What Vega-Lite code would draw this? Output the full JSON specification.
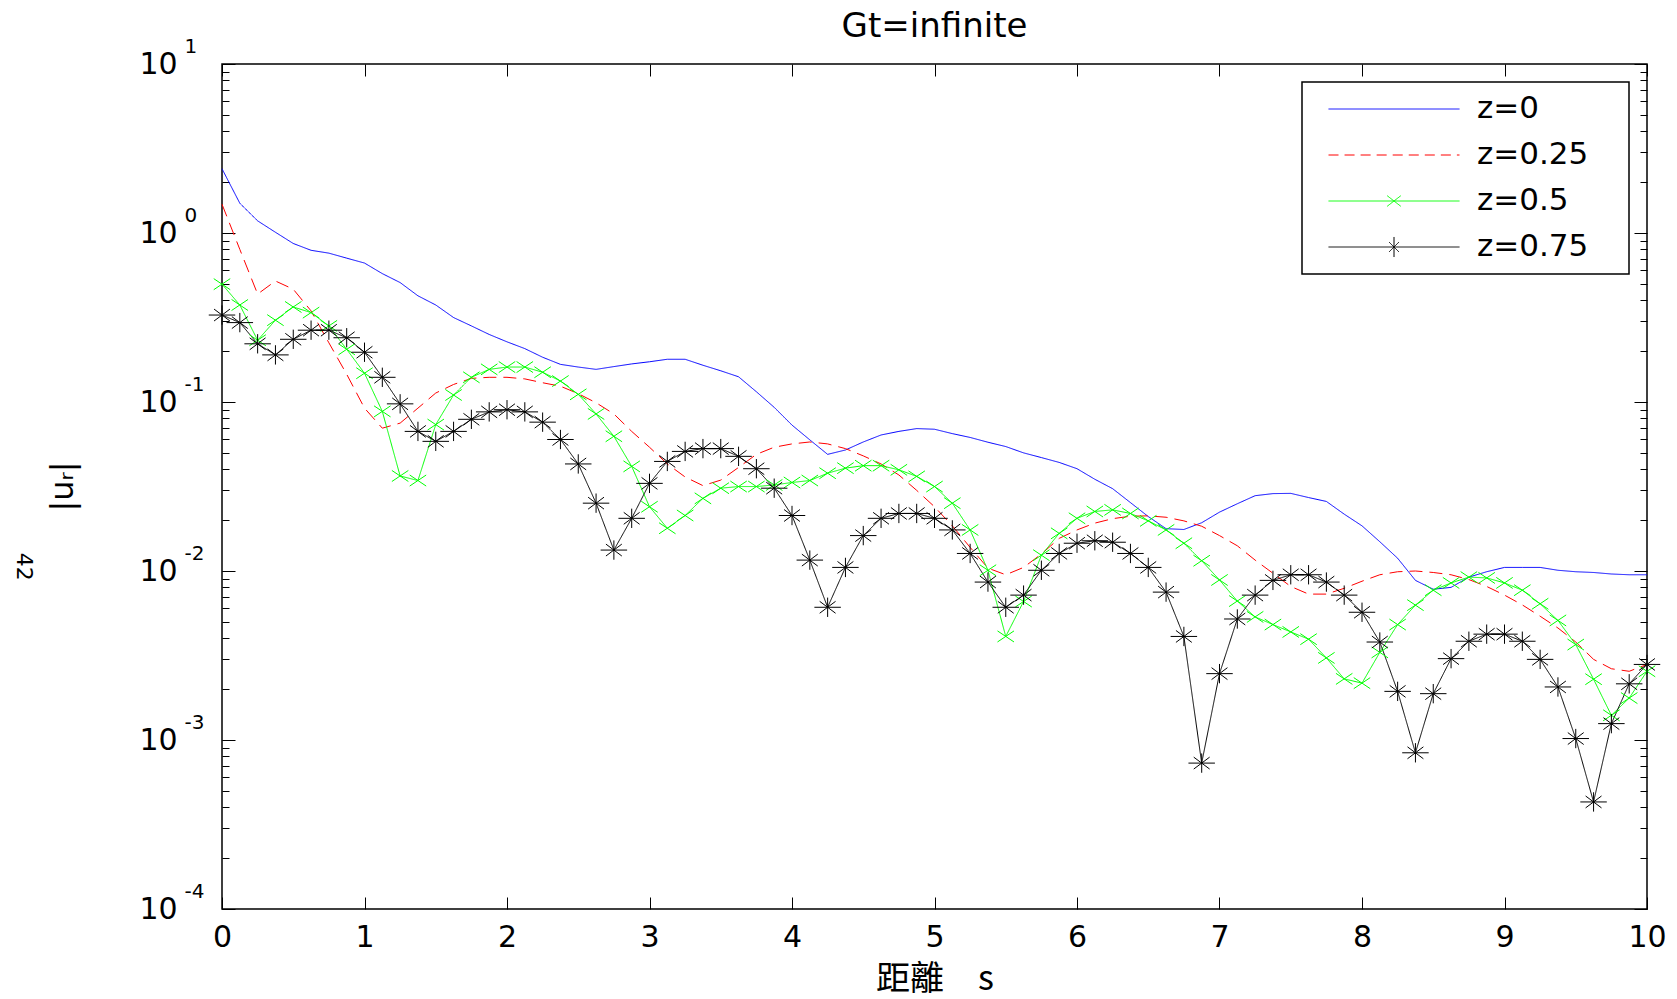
{
"$schema":"https://vega.github.io/schema/vega-lite/v6.json",
"width":1425,"height":845,
"autosize":{"type":"none"},
"padding":{"left":222,"top":64,"right":30,"bottom":90},
"background":"white",
"config":{"view":{"stroke":"black","strokeWidth":1.5},"font":"DejaVu Sans",
 "axis":{"domain":false,"grid":false,"tickColor":"black","tickWidth":1,"labelColor":"black","labelFont":"DejaVu Sans","labelFlush":false,"labelOverlap":false,"labelBound":false,"titleColor":"black","titleFontWeight":"normal"}},
"title":{"text":"Gt=infinite","font":"DejaVu Sans","fontSize":34,"fontWeight":"normal","color":"black","baseline":"alphabetic","offset":-34,"anchor":"middle"},
"datasets":{"curves":[
{"s":0,"z":"z=0","v":2.4},{"s":0.125,"z":"z=0","v":1.5},{"s":0.25,"z":"z=0","v":1.18},{"s":0.375,"z":"z=0","v":1.01},{"s":0.5,"z":"z=0","v":0.867},{"s":0.625,"z":"z=0","v":0.79},{"s":0.75,"z":"z=0","v":0.76},{"s":0.875,"z":"z=0","v":0.71},{"s":1,"z":"z=0","v":0.664},{"s":1.125,"z":"z=0","v":0.575},{"s":1.25,"z":"z=0","v":0.509},{"s":1.375,"z":"z=0","v":0.425},{"s":1.5,"z":"z=0","v":0.375},{"s":1.625,"z":"z=0","v":0.316},{"s":1.75,"z":"z=0","v":0.282},{"s":1.875,"z":"z=0","v":0.251},{"s":2,"z":"z=0","v":0.227},{"s":2.125,"z":"z=0","v":0.207},{"s":2.25,"z":"z=0","v":0.184},{"s":2.375,"z":"z=0","v":0.167},{"s":2.5,"z":"z=0","v":0.161},{"s":2.625,"z":"z=0","v":0.156},{"s":2.75,"z":"z=0","v":0.162},{"s":2.875,"z":"z=0","v":0.168},{"s":3,"z":"z=0","v":0.173},{"s":3.125,"z":"z=0","v":0.179},{"s":3.25,"z":"z=0","v":0.179},{"s":3.375,"z":"z=0","v":0.165},{"s":3.5,"z":"z=0","v":0.153},{"s":3.625,"z":"z=0","v":0.141},{"s":3.75,"z":"z=0","v":0.115},{"s":3.875,"z":"z=0","v":0.093},{"s":4,"z":"z=0","v":0.073},{"s":4.125,"z":"z=0","v":0.0597},{"s":4.25,"z":"z=0","v":0.049},{"s":4.375,"z":"z=0","v":0.052},{"s":4.5,"z":"z=0","v":0.058},{"s":4.625,"z":"z=0","v":0.0638},{"s":4.75,"z":"z=0","v":0.067},{"s":4.875,"z":"z=0","v":0.0696},{"s":5,"z":"z=0","v":0.069},{"s":5.125,"z":"z=0","v":0.065},{"s":5.25,"z":"z=0","v":0.0617},{"s":5.375,"z":"z=0","v":0.0578},{"s":5.5,"z":"z=0","v":0.0545},{"s":5.625,"z":"z=0","v":0.05},{"s":5.75,"z":"z=0","v":0.0469},{"s":5.875,"z":"z=0","v":0.0439},{"s":6,"z":"z=0","v":0.0403},{"s":6.125,"z":"z=0","v":0.0349},{"s":6.25,"z":"z=0","v":0.0307},{"s":6.375,"z":"z=0","v":0.0254},{"s":6.5,"z":"z=0","v":0.021},{"s":6.625,"z":"z=0","v":0.0178},{"s":6.75,"z":"z=0","v":0.0176},{"s":6.875,"z":"z=0","v":0.0193},{"s":7,"z":"z=0","v":0.0223},{"s":7.125,"z":"z=0","v":0.025},{"s":7.25,"z":"z=0","v":0.0279},{"s":7.375,"z":"z=0","v":0.0287},{"s":7.5,"z":"z=0","v":0.0288},{"s":7.625,"z":"z=0","v":0.0272},{"s":7.75,"z":"z=0","v":0.0258},{"s":7.875,"z":"z=0","v":0.0217},{"s":8,"z":"z=0","v":0.0185},{"s":8.125,"z":"z=0","v":0.0149},{"s":8.25,"z":"z=0","v":0.0119},{"s":8.375,"z":"z=0","v":0.0088},{"s":8.5,"z":"z=0","v":0.0078},{"s":8.625,"z":"z=0","v":0.008},{"s":8.75,"z":"z=0","v":0.0092},{"s":8.875,"z":"z=0","v":0.0099},{"s":9,"z":"z=0","v":0.0105},{"s":9.125,"z":"z=0","v":0.0105},{"s":9.25,"z":"z=0","v":0.0105},{"s":9.375,"z":"z=0","v":0.0101},{"s":9.5,"z":"z=0","v":0.0099},{"s":9.625,"z":"z=0","v":0.0098},{"s":9.75,"z":"z=0","v":0.0096},{"s":9.875,"z":"z=0","v":0.0095},{"s":10,"z":"z=0","v":0.0095},
{"s":0,"z":"z=0.25","v":1.48},{"s":0.125,"z":"z=0.25","v":0.8},{"s":0.25,"z":"z=0.25","v":0.435},{"s":0.375,"z":"z=0.25","v":0.52},{"s":0.5,"z":"z=0.25","v":0.465},{"s":0.625,"z":"z=0.25","v":0.346},{"s":0.75,"z":"z=0.25","v":0.224},{"s":0.875,"z":"z=0.25","v":0.146},{"s":1,"z":"z=0.25","v":0.092},{"s":1.125,"z":"z=0.25","v":0.07},{"s":1.25,"z":"z=0.25","v":0.075},{"s":1.375,"z":"z=0.25","v":0.092},{"s":1.5,"z":"z=0.25","v":0.113},{"s":1.625,"z":"z=0.25","v":0.127},{"s":1.75,"z":"z=0.25","v":0.138},{"s":1.875,"z":"z=0.25","v":0.14},{"s":2,"z":"z=0.25","v":0.14},{"s":2.125,"z":"z=0.25","v":0.137},{"s":2.25,"z":"z=0.25","v":0.13},{"s":2.375,"z":"z=0.25","v":0.124},{"s":2.5,"z":"z=0.25","v":0.112},{"s":2.625,"z":"z=0.25","v":0.099},{"s":2.75,"z":"z=0.25","v":0.085},{"s":2.875,"z":"z=0.25","v":0.067},{"s":3,"z":"z=0.25","v":0.054},{"s":3.125,"z":"z=0.25","v":0.043},{"s":3.25,"z":"z=0.25","v":0.036},{"s":3.375,"z":"z=0.25","v":0.032},{"s":3.5,"z":"z=0.25","v":0.0345},{"s":3.625,"z":"z=0.25","v":0.041},{"s":3.75,"z":"z=0.25","v":0.049},{"s":3.875,"z":"z=0.25","v":0.054},{"s":4,"z":"z=0.25","v":0.0565},{"s":4.125,"z":"z=0.25","v":0.058},{"s":4.25,"z":"z=0.25","v":0.0565},{"s":4.375,"z":"z=0.25","v":0.053},{"s":4.5,"z":"z=0.25","v":0.048},{"s":4.625,"z":"z=0.25","v":0.043},{"s":4.75,"z":"z=0.25","v":0.037},{"s":4.875,"z":"z=0.25","v":0.03},{"s":5,"z":"z=0.25","v":0.024},{"s":5.125,"z":"z=0.25","v":0.0185},{"s":5.25,"z":"z=0.25","v":0.0138},{"s":5.375,"z":"z=0.25","v":0.0104},{"s":5.5,"z":"z=0.25","v":0.0095},{"s":5.625,"z":"z=0.25","v":0.0105},{"s":5.75,"z":"z=0.25","v":0.0126},{"s":5.875,"z":"z=0.25","v":0.0156},{"s":6,"z":"z=0.25","v":0.0175},{"s":6.125,"z":"z=0.25","v":0.0192},{"s":6.25,"z":"z=0.25","v":0.0204},{"s":6.375,"z":"z=0.25","v":0.0211},{"s":6.5,"z":"z=0.25","v":0.0212},{"s":6.625,"z":"z=0.25","v":0.0208},{"s":6.75,"z":"z=0.25","v":0.0198},{"s":6.875,"z":"z=0.25","v":0.0184},{"s":7,"z":"z=0.25","v":0.0162},{"s":7.125,"z":"z=0.25","v":0.0141},{"s":7.25,"z":"z=0.25","v":0.0116},{"s":7.375,"z":"z=0.25","v":0.0097},{"s":7.5,"z":"z=0.25","v":0.0081},{"s":7.625,"z":"z=0.25","v":0.0073},{"s":7.75,"z":"z=0.25","v":0.0073},{"s":7.875,"z":"z=0.25","v":0.0079},{"s":8,"z":"z=0.25","v":0.0087},{"s":8.125,"z":"z=0.25","v":0.0095},{"s":8.25,"z":"z=0.25","v":0.0099},{"s":8.375,"z":"z=0.25","v":0.01},{"s":8.5,"z":"z=0.25","v":0.0098},{"s":8.625,"z":"z=0.25","v":0.0095},{"s":8.75,"z":"z=0.25","v":0.0089},{"s":8.875,"z":"z=0.25","v":0.0081},{"s":9,"z":"z=0.25","v":0.0072},{"s":9.125,"z":"z=0.25","v":0.0063},{"s":9.25,"z":"z=0.25","v":0.0054},{"s":9.375,"z":"z=0.25","v":0.0046},{"s":9.5,"z":"z=0.25","v":0.0038},{"s":9.625,"z":"z=0.25","v":0.003},{"s":9.75,"z":"z=0.25","v":0.00264},{"s":9.875,"z":"z=0.25","v":0.00255},{"s":10,"z":"z=0.25","v":0.0028},
{"s":0,"z":"z=0.5","v":0.498},{"s":0.125,"z":"z=0.5","v":0.375},{"s":0.25,"z":"z=0.5","v":0.232},{"s":0.375,"z":"z=0.5","v":0.305},{"s":0.5,"z":"z=0.5","v":0.365},{"s":0.625,"z":"z=0.5","v":0.338},{"s":0.75,"z":"z=0.5","v":0.282},{"s":0.875,"z":"z=0.5","v":0.205},{"s":1,"z":"z=0.5","v":0.148},{"s":1.125,"z":"z=0.5","v":0.088},{"s":1.25,"z":"z=0.5","v":0.0365},{"s":1.375,"z":"z=0.5","v":0.0343},{"s":1.5,"z":"z=0.5","v":0.0735},{"s":1.625,"z":"z=0.5","v":0.11},{"s":1.75,"z":"z=0.5","v":0.14},{"s":1.875,"z":"z=0.5","v":0.156},{"s":2,"z":"z=0.5","v":0.161},{"s":2.125,"z":"z=0.5","v":0.161},{"s":2.25,"z":"z=0.5","v":0.15},{"s":2.375,"z":"z=0.5","v":0.133},{"s":2.5,"z":"z=0.5","v":0.111},{"s":2.625,"z":"z=0.5","v":0.085},{"s":2.75,"z":"z=0.5","v":0.0627},{"s":2.875,"z":"z=0.5","v":0.0416},{"s":3,"z":"z=0.5","v":0.024},{"s":3.125,"z":"z=0.5","v":0.0179},{"s":3.25,"z":"z=0.5","v":0.0213},{"s":3.375,"z":"z=0.5","v":0.0269},{"s":3.5,"z":"z=0.5","v":0.0309},{"s":3.625,"z":"z=0.5","v":0.0316},{"s":3.75,"z":"z=0.5","v":0.0316},{"s":3.875,"z":"z=0.5","v":0.0323},{"s":4,"z":"z=0.5","v":0.0334},{"s":4.125,"z":"z=0.5","v":0.0343},{"s":4.25,"z":"z=0.5","v":0.0379},{"s":4.375,"z":"z=0.5","v":0.0406},{"s":4.5,"z":"z=0.5","v":0.042},{"s":4.625,"z":"z=0.5","v":0.042},{"s":4.75,"z":"z=0.5","v":0.0397},{"s":4.875,"z":"z=0.5","v":0.0363},{"s":5,"z":"z=0.5","v":0.0316},{"s":5.125,"z":"z=0.5","v":0.0252},{"s":5.25,"z":"z=0.5","v":0.0175},{"s":5.375,"z":"z=0.5","v":0.0101},{"s":5.5,"z":"z=0.5","v":0.0041},{"s":5.625,"z":"z=0.5","v":0.0066},{"s":5.75,"z":"z=0.5","v":0.0124},{"s":5.875,"z":"z=0.5","v":0.0167},{"s":6,"z":"z=0.5","v":0.0205},{"s":6.125,"z":"z=0.5","v":0.0225},{"s":6.25,"z":"z=0.5","v":0.023},{"s":6.375,"z":"z=0.5","v":0.0219},{"s":6.5,"z":"z=0.5","v":0.0198},{"s":6.625,"z":"z=0.5","v":0.0175},{"s":6.75,"z":"z=0.5","v":0.0146},{"s":6.875,"z":"z=0.5","v":0.0115},{"s":7,"z":"z=0.5","v":0.00885},{"s":7.125,"z":"z=0.5","v":0.00664},{"s":7.25,"z":"z=0.5","v":0.00535},{"s":7.375,"z":"z=0.5","v":0.00482},{"s":7.5,"z":"z=0.5","v":0.00436},{"s":7.625,"z":"z=0.5","v":0.00395},{"s":7.75,"z":"z=0.5","v":0.00306},{"s":7.875,"z":"z=0.5","v":0.0023},{"s":8,"z":"z=0.5","v":0.00217},{"s":8.125,"z":"z=0.5","v":0.0033},{"s":8.25,"z":"z=0.5","v":0.00482},{"s":8.375,"z":"z=0.5","v":0.00628},{"s":8.5,"z":"z=0.5","v":0.0077},{"s":8.625,"z":"z=0.5","v":0.0085},{"s":8.75,"z":"z=0.5","v":0.0092},{"s":8.875,"z":"z=0.5","v":0.0091},{"s":9,"z":"z=0.5","v":0.0085},{"s":9.125,"z":"z=0.5","v":0.0077},{"s":9.25,"z":"z=0.5","v":0.0064},{"s":9.375,"z":"z=0.5","v":0.0051},{"s":9.5,"z":"z=0.5","v":0.00367},{"s":9.625,"z":"z=0.5","v":0.00229},{"s":9.75,"z":"z=0.5","v":0.0014},{"s":9.875,"z":"z=0.5","v":0.00177},{"s":10,"z":"z=0.5","v":0.00255},
{"s":0,"z":"z=0.75","v":0.327},{"s":0.125,"z":"z=0.75","v":0.295},{"s":0.25,"z":"z=0.75","v":0.221},{"s":0.375,"z":"z=0.75","v":0.19},{"s":0.5,"z":"z=0.75","v":0.235},{"s":0.625,"z":"z=0.75","v":0.266},{"s":0.75,"z":"z=0.75","v":0.266},{"s":0.875,"z":"z=0.75","v":0.24},{"s":1,"z":"z=0.75","v":0.197},{"s":1.125,"z":"z=0.75","v":0.14},{"s":1.25,"z":"z=0.75","v":0.0975},{"s":1.375,"z":"z=0.75","v":0.067},{"s":1.5,"z":"z=0.75","v":0.0585},{"s":1.625,"z":"z=0.75","v":0.067},{"s":1.75,"z":"z=0.75","v":0.079},{"s":1.875,"z":"z=0.75","v":0.0874},{"s":2,"z":"z=0.75","v":0.09},{"s":2.125,"z":"z=0.75","v":0.0874},{"s":2.25,"z":"z=0.75","v":0.076},{"s":2.375,"z":"z=0.75","v":0.06},{"s":2.5,"z":"z=0.75","v":0.043},{"s":2.625,"z":"z=0.75","v":0.0252},{"s":2.75,"z":"z=0.75","v":0.0133},{"s":2.875,"z":"z=0.75","v":0.0205},{"s":3,"z":"z=0.75","v":0.033},{"s":3.125,"z":"z=0.75","v":0.0445},{"s":3.25,"z":"z=0.75","v":0.051},{"s":3.375,"z":"z=0.75","v":0.053},{"s":3.5,"z":"z=0.75","v":0.053},{"s":3.625,"z":"z=0.75","v":0.0477},{"s":3.75,"z":"z=0.75","v":0.0403},{"s":3.875,"z":"z=0.75","v":0.0309},{"s":4,"z":"z=0.75","v":0.0213},{"s":4.125,"z":"z=0.75","v":0.0116},{"s":4.25,"z":"z=0.75","v":0.0061},{"s":4.375,"z":"z=0.75","v":0.0105},{"s":4.5,"z":"z=0.75","v":0.0162},{"s":4.625,"z":"z=0.75","v":0.0205},{"s":4.75,"z":"z=0.75","v":0.0219},{"s":4.875,"z":"z=0.75","v":0.0219},{"s":5,"z":"z=0.75","v":0.0205},{"s":5.125,"z":"z=0.75","v":0.0175},{"s":5.25,"z":"z=0.75","v":0.0127},{"s":5.375,"z":"z=0.75","v":0.0086},{"s":5.5,"z":"z=0.75","v":0.0061},{"s":5.625,"z":"z=0.75","v":0.0072},{"s":5.75,"z":"z=0.75","v":0.0101},{"s":5.875,"z":"z=0.75","v":0.0127},{"s":6,"z":"z=0.75","v":0.0146},{"s":6.125,"z":"z=0.75","v":0.0151},{"s":6.25,"z":"z=0.75","v":0.0148},{"s":6.375,"z":"z=0.75","v":0.0127},{"s":6.5,"z":"z=0.75","v":0.0105},{"s":6.625,"z":"z=0.75","v":0.0075},{"s":6.75,"z":"z=0.75","v":0.0041},{"s":6.875,"z":"z=0.75","v":0.00073},{"s":7,"z":"z=0.75","v":0.00247},{"s":7.125,"z":"z=0.75","v":0.0052},{"s":7.25,"z":"z=0.75","v":0.0072},{"s":7.375,"z":"z=0.75","v":0.0088},{"s":7.5,"z":"z=0.75","v":0.0095},{"s":7.625,"z":"z=0.75","v":0.0095},{"s":7.75,"z":"z=0.75","v":0.0086},{"s":7.875,"z":"z=0.75","v":0.0072},{"s":8,"z":"z=0.75","v":0.0057},{"s":8.125,"z":"z=0.75","v":0.0038},{"s":8.25,"z":"z=0.75","v":0.00194},{"s":8.375,"z":"z=0.75","v":0.00084},{"s":8.5,"z":"z=0.75","v":0.00188},{"s":8.625,"z":"z=0.75","v":0.00303},{"s":8.75,"z":"z=0.75","v":0.00384},{"s":8.875,"z":"z=0.75","v":0.00423},{"s":9,"z":"z=0.75","v":0.00423},{"s":9.125,"z":"z=0.75","v":0.00384},{"s":9.25,"z":"z=0.75","v":0.003},{"s":9.375,"z":"z=0.75","v":0.00206},{"s":9.5,"z":"z=0.75","v":0.00102},{"s":9.625,"z":"z=0.75","v":0.00043},{"s":9.75,"z":"z=0.75","v":0.00125},{"s":9.875,"z":"z=0.75","v":0.00215},{"s":10,"z":"z=0.75","v":0.0028}
],
"note":[{"s":-1.39,"v":0.0106,"t":"42"}]},
"data":{"name":"curves"},
"layer":[
 {"mark":{"type":"line","strokeWidth":1},
  "encoding":{
   "x":{"field":"s","type":"quantitative","scale":{"domain":[0,10],"nice":false,"zero":false},
        "axis":{"orient":"bottom","values":[0,1,2,3,4,5,6,7,8,9,10],"tickSize":-12,"labelFontSize":30,"labelBaseline":"alphabetic","labelPadding":49,
                "title":"距離　s","titleFont":"Noto Sans CJK TC","titleFontSize":34,"titleBaseline":"alphabetic","titleY":80}},
   "y":{"field":"v","type":"quantitative","scale":{"type":"log","domain":[0.0001,10],"nice":false},
        "axis":{"orient":"left","values":[0.0001,0.001,0.01,0.1,1,10],"tickSize":-13,"labelExpr":"'10'","labelAlign":"left","labelFontSize":30,"labelPadding":96,
                "title":"|uᵣ|","titleFont":"DejaVu Sans","titleFontSize":32,"titleAngle":-90,"titleBaseline":"alphabetic","titleAlign":"center","titleX":-150,"titleY":422}},
   "color":{"field":"z","type":"nominal","scale":{"domain":["z=0","z=0.25","z=0.5","z=0.75"],"range":["#0000ff","#ff0000","#00ff00","#000000"]},
        "legend":{"title":null,"orient":"top-right","offset":18,"padding":11,"strokeColor":"black","fillColor":"white",
                  "symbolSize":17161,"symbolStrokeWidth":1,"symbolOffset":15,"labelOffset":17,"labelFontSize":31,"labelFont":"DejaVu Sans","labelColor":"black",
                  "clipHeight":32,"rowPadding":14,"labelExpr":"datum.label + '\u00a0\u00a0\u00a0\u200b'",
                  "encode":{"legend":{"update":{"strokeWidth":{"value":1.5}}},
                            "symbols":{"update":{"fill":{"value":"transparent"},
                              "shape":{"signal":"datum.value == 'z=0.5' ? 'M-1,0H1M-0.104,-0.081L0.104,0.081M-0.104,0.081L0.104,-0.081' : datum.value == 'z=0.75' ? 'M-1,0H1M0,-0.153V0.153M-0.076,-0.076L0.076,0.076M-0.076,0.076L0.076,-0.076' : datum.value == 'z=0.25' ? 'M-1,0H-0.847M-0.755,0H-0.602M-0.51,0H-0.357M-0.265,0H-0.112M-0.02,0H0.133M0.225,0H0.378M0.47,0H0.623M0.715,0H0.868M0.96,0H1' : 'M-1,0H1'"}}}}}},
   "strokeDash":{"field":"z","type":"nominal","scale":{"domain":["z=0","z=0.25","z=0.5","z=0.75"],"range":[[1,0],[13,7],[1,0],[1,0]]},"legend":null}
  }},
 {"transform":[{"filter":"datum.z == 'z=0.5'"}],
  "mark":{"type":"point","shape":"M-1,-0.67L1,0.67M-1,0.67L1,-0.67","size":272,"filled":false,"color":"#00ff00","strokeWidth":1,"opacity":1},
  "encoding":{
   "x":{"field":"s","type":"quantitative","scale":{"domain":[0,10],"nice":false,"zero":false},
        "axis":{"orient":"top","values":[0,1,2,3,4,5,6,7,8,9,10],"tickSize":-12,"labels":false,"title":null}},
   "y":{"field":"v","type":"quantitative","scale":{"type":"log","domain":[0.0001,10],"nice":false},
        "axis":{"orient":"left","values":[0.0001,0.0002,0.0003,0.0004,0.0005,0.0006,0.0007,0.0008,0.0009,0.001,0.002,0.003,0.004,0.005,0.006,0.007,0.008,0.009,0.01,0.02,0.03,0.04,0.05,0.06,0.07,0.08,0.09,0.1,0.2,0.3,0.4,0.5,0.6,0.7,0.8,0.9,1,2,3,4,5,6,7,8,9,10],
                "tickSize":-7,"labelExpr":"abs(log(datum.value)/LN10 - round(log(datum.value)/LN10)) < 0.001 ? '' + round(log(datum.value)/LN10) : ''",
                "labelAlign":"left","labelFontSize":20,"labelPadding":45,"labelOffset":-17.5,"title":null}}
  }},
 {"transform":[{"filter":"datum.z == 'z=0.75'"}],
  "mark":{"type":"point","shape":"M-1,0H1M0,-0.73V0.73M-0.6,-0.45L0.6,0.45M-0.6,0.45L0.6,-0.45","size":702,"filled":false,"color":"#000000","strokeWidth":1,"opacity":1},
  "encoding":{
   "x":{"field":"s","type":"quantitative","scale":{"domain":[0,10],"nice":false,"zero":false},"axis":null},
   "y":{"field":"v","type":"quantitative","scale":{"type":"log","domain":[0.0001,10],"nice":false},
        "axis":{"orient":"right","values":[0.0001,0.001,0.01,0.1,1,10],"tickSize":-13,"labels":false,"title":null}}
  }},
 {"data":{"name":"note"},
  "mark":{"type":"text","angle":90,"fontSize":22,"font":"DejaVu Sans","color":"black","align":"center","baseline":"middle"},
  "encoding":{
   "x":{"field":"s","type":"quantitative","scale":{"domain":[0,10],"nice":false,"zero":false},"axis":null},
   "y":{"field":"v","type":"quantitative","scale":{"type":"log","domain":[0.0001,10],"nice":false},
        "axis":{"orient":"right","values":[0.0002,0.0003,0.0004,0.0005,0.0006,0.0007,0.0008,0.0009,0.002,0.003,0.004,0.005,0.006,0.007,0.008,0.009,0.02,0.03,0.04,0.05,0.06,0.07,0.08,0.09,0.2,0.3,0.4,0.5,0.6,0.7,0.8,0.9,2,3,4,5,6,7,8,9],"tickSize":-7,"labels":false,"title":null}},
   "text":{"field":"t"}
  }}
],
"resolve":{"axis":{"x":"independent","y":"independent"}}
}
